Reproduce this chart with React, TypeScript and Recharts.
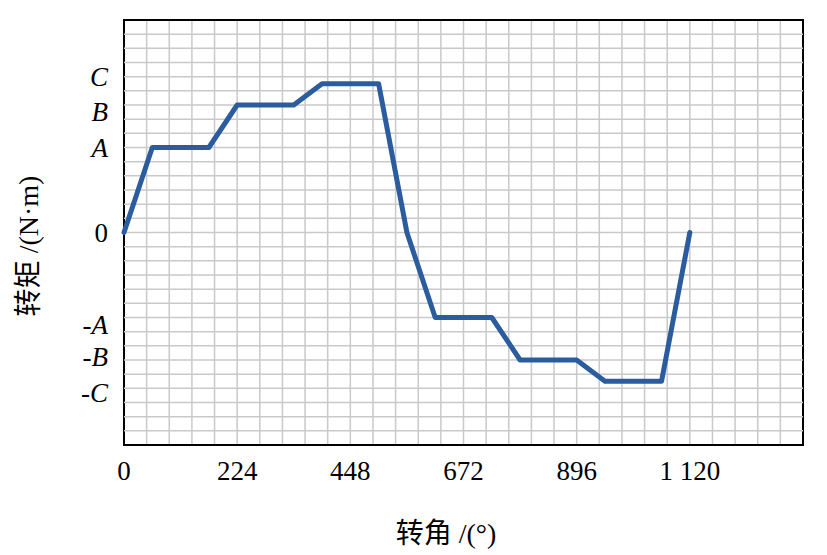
import React from 'react'
import { LineChart, Line, XAxis, YAxis, CartesianGrid, ReferenceArea, ReferenceLine } from 'recharts'

// 转角 (°) and 转矩 in grid-row units (A ≈ 6, B ≈ 9, C ≈ 10.5)
const angle = [0, 56, 168, 224, 336, 392, 504, 560, 616, 728, 784, 896, 952, 1064, 1120]
const torque = [0, 6, 6, 9, 9, 10.5, 10.5, 0, -6, -6, -9, -9, -10.5, -10.5, 0]

const xTicks = [0, 224, 448, 672, 896, 1120]
const yTicks = [11, 8.5, 6, 0, -6.5, -8.8, -11.3]
const yTickLabels = ['C', 'B', 'A', '0', '-A', '-B', '-C']

const gridX = Array.from({ length: 31 }, (_, i) => i * 44.8)
const gridY = Array.from({ length: 29 }, (_, i) => i - 14)

const data = angle.map((x, i) => ({ x, y: torque[i] }))

const FONT = '"Liberation Serif", "Noto Sans CJK SC", serif'

function XTick({ x, y, payload }: any) {
  const v = payload.value as number
  const label = v >= 1000 ? `${Math.floor(v / 1000)} ${String(v % 1000).padStart(3, '0')}` : String(v)
  return (
    <text x={x} y={y + 27} textAnchor="middle" fontSize={27} fontFamily={FONT} fill="#000">
      {label}
    </text>
  )
}

function YTick({ x, y, payload }: any) {
  const idx = yTicks.indexOf(payload.value)
  const label = yTickLabels[idx] ?? ''
  return (
    <text
      x={x}
      y={y + 9}
      textAnchor="end"
      fontSize={27}
      fontFamily={FONT}
      fontStyle={label === '0' ? 'normal' : 'italic'}
      fill="#000"
    >
      {label}
    </text>
  )
}

export default function App() {
  return (
    <div style={{ position: 'absolute', left: 0, top: 0, background: '#fff' }}>
      <LineChart width={827} height={555} data={data} margin={{ top: 20, right: 24, left: 0, bottom: 0 }}>
        <XAxis xAxisId="grid" dataKey="x" type="number" domain={[0, 1344]} ticks={gridX} interval={0} hide />
        <CartesianGrid xAxisId="grid" horizontal={false} stroke="#c9c9c9" strokeWidth={1.5} />
        {gridY.map(v => (
          <ReferenceLine key={v} y={v} stroke="#c9c9c9" strokeWidth={1.5} />
        ))}
        <XAxis
          dataKey="x"
          type="number"
          domain={[0, 1344]}
          ticks={xTicks}
          height={110}
          axisLine={false}
          tickLine={false}
          tick={<XTick />}
          interval={0}
          label={{
            content: () => (
              <text x={446} y={543} textAnchor="middle" fontSize={28} fontFamily={FONT} fill="#000">
                转角 /(°)
              </text>
            )
          }}
        />
        <YAxis
          type="number"
          domain={[-15, 15]}
          ticks={yTicks}
          width={124}
          axisLine={false}
          tickLine={false}
          tickSize={0}
          tickMargin={16}
          tick={<YTick />}
          interval={0}
          label={{
            content: () => (
              <text
                x={0}
                y={0}
                transform="translate(38, 246) rotate(-90)"
                textAnchor="middle"
                fontSize={28}
                fontFamily={FONT}
                fill="#000"
              >
                转矩 /(N·m)
              </text>
            )
          }}
        />
        <ReferenceArea x1={0} x2={1344} y1={-15} y2={15} fill="none" stroke="#000" strokeWidth={2} ifOverflow="visible" />
        <Line
          type="linear"
          dataKey="y"
          stroke="#2b5c9e"
          strokeWidth={5}
          strokeLinejoin="round"
          strokeLinecap="round"
          dot={false}
          isAnimationActive={false}
        />
      </LineChart>
    </div>
  )
}
